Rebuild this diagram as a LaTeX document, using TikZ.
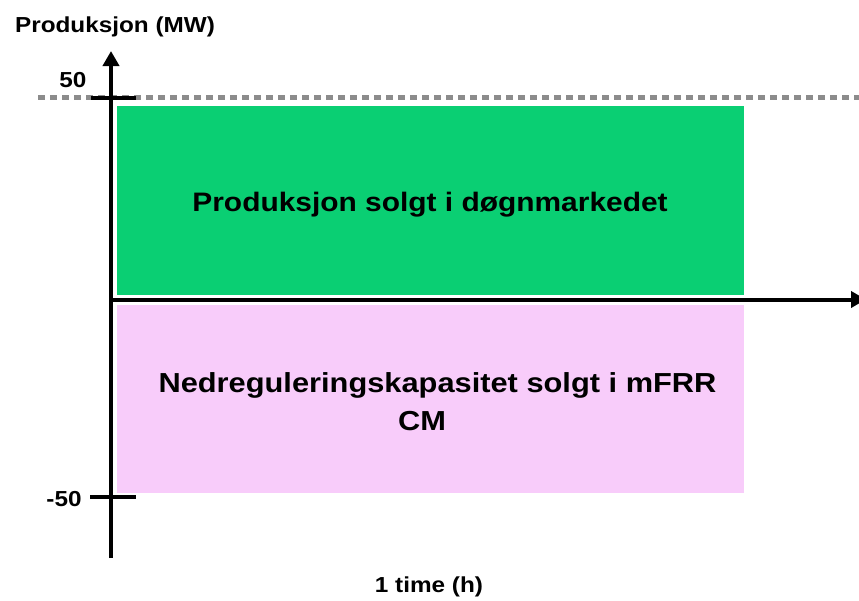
\documentclass[tikz,border=0pt]{standalone}
\usepackage{fontspec}
\setmainfont{Liberation Sans}[FakeStretch=1.12]
\usetikzlibrary{arrows.meta}
\definecolor{grn}{RGB}{10,207,115}
\definecolor{pnk}{RGB}{248,204,250}
\definecolor{dotgray}{RGB}{140,140,140}
\tikzset{
  axisline/.style={line width=4pt, black},
  tickline/.style={line width=4pt, black},
  arrowtip/.style={-{Triangle[length=15pt,width=16pt]}},
  refline/.style={line width=4.5pt, dotgray, dash pattern=on 7pt off 5pt},
  small/.style={font=\fontsize{21.7}{26}\selectfont\bfseries, inner sep=0pt, anchor=base},
  big/.style={font=\fontsize{26.7}{32}\selectfont\bfseries, inner sep=0pt, anchor=base},
  bigp/.style={font=\fontsize{27.5}{32}\selectfont\bfseries, inner sep=0pt, anchor=base},
}
\begin{document}
\begin{tikzpicture}[x=1pt,y=-1pt]
\useasboundingbox (0,0) rectangle (859,600);
% boxes
\fill[grn] (117,106) rectangle (744,295);
\fill[pnk] (117,305) rectangle (744,493);
% reference line
\coordinate (dl) at (38,97.5);
\coordinate (dr) at (859,97.5);
\draw[refline] (dl) -- (dr);
% axes
\coordinate (o) at (109,299.5);
\coordinate (yb) at (111,558);
\coordinate (yt) at (111,51);
\coordinate (xr) at (866,299.5);
\draw[axisline, arrowtip] (yb) -- (yt);
\draw[axisline, arrowtip] (o) -- (xr);
% ticks
\coordinate (t1l) at (91,97.5);
\coordinate (t1r) at (136,97.5);
\coordinate (t2l) at (90,497);
\coordinate (t2r) at (136,497);
\draw[tickline] (t1l) -- (t1r);
\draw[tickline] (t2l) -- (t2r);
% labels
\node[small] (ylab) at (115,32) {Produksjon (MW)};
\node[small] (l50) at (73,87) {50};
\node[small] (lm50) at (64,506) {-50};
\node[small] (xlab) at (429,592) {1 time (h)};
\node[big] (gtext) at (430,211) {Produksjon solgt i døgnmarkedet};
\node[bigp] (ptext1) at (437.5,392) {Nedreguleringskapasitet solgt i mFRR};
\node[bigp] (ptext2) at (422,430) {CM};
\end{tikzpicture}
\end{document}
